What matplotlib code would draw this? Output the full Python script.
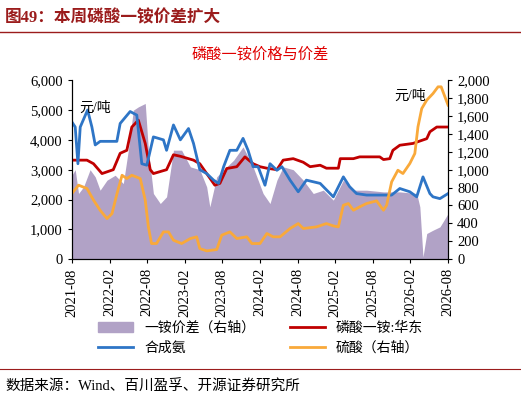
import matplotlib
matplotlib.use("Agg")
import matplotlib.pyplot as plt
import numpy as np

plt.rcParams['font.family'] = ['Liberation Serif', 'Noto Sans CJK SC']

months_spread = [0,0.53,1.06,1.86,2.9,3.72,4.5,5.6,6.9,8.2,9.0,9.8,10.6,11.7,12.2,13.0,14.1,15.1,16.2,17.5,18.9,20.4,21.5,22.0,23.1,24.2,25.8,27.3,28.9,30.5,31.6,32.7,33.7,35.3,36.9,38.5,40.1,41.7,43.3,44.9,47.0,49.7,52.3,55.0,55.5,56.0,56.6,57.6,58.7,60]
spread = [938,1000,734,808,1000,920,771,883,938,845,1218,1665,1702,1740,1218,734,622,697,1218,1218,1032,1000,808,585,920,1000,1106,1255,1032,734,622,883,1032,1000,883,734,771,660,883,771,771,752,752,734,585,26,287,324,361,510]

months_map = [0,2.4,3.45,4.8,6.6,7.7,8.76,9.56,10.6,11.7,12.5,13.0,15.1,16.2,17.3,19.4,20.4,21.5,22.8,23.6,24.7,26.3,27.6,28.9,30.0,31.1,32.7,33.7,35.3,36.9,38.0,39.6,40.6,42.5,42.8,44.9,45.9,49.1,49.7,50.7,51.2,52.3,54.4,56.6,57.1,58.2,60]
map_price = [3320,3320,3200,2870,3000,3550,3650,4430,4660,3880,3000,2870,3000,3500,3450,3320,3200,2870,2480,2540,3040,3100,3430,3200,3100,3050,3000,3320,3370,3250,3100,3150,3050,3050,3370,3370,3430,3430,3340,3370,3650,3820,3880,4040,4270,4430,4430]

months_nh3 = [0,0.53,0.96,1.33,2.5,3.19,3.72,4.51,7.17,7.7,9.29,10.35,11.15,11.95,13.0,14.6,15.1,16.2,17.3,18.6,19.4,20.4,21.5,22.6,23.4,24.2,25.2,26.3,27.3,28.1,28.9,29.7,30.8,31.6,32.7,33.5,34.8,36.1,37.4,39.6,41.7,43.3,44.3,45.4,47.0,49.6,51.0,52.3,53.9,55.0,56.0,57.1,57.6,58.7,60]
nh3 = [4600,4430,3200,4430,5000,4430,3830,3950,3950,4550,4950,4830,3200,3150,4100,4000,3650,4500,4000,4380,3880,3000,2870,2650,2540,3100,3650,3650,4050,3650,3100,3100,2480,3200,2980,3100,2650,2260,2650,2540,2090,2760,2430,2200,2150,2150,2150,2370,2260,2090,2760,2200,2090,2030,2200]

months_acid = [0,1.06,2.4,3.45,4.5,5.6,6.4,7.2,8.0,8.76,9.56,10.9,11.7,12.2,12.7,13.5,14.6,15.4,16.2,17.5,18.9,19.9,20.4,21.5,23.1,23.9,25.2,26.3,27.9,28.7,30.0,31.1,32.1,33.2,34.8,36.1,36.9,39.0,40.6,41.7,42.5,43.3,44.1,44.9,45.9,47.0,48.6,49.7,50.2,51.0,52.0,52.8,53.9,54.7,55.2,55.8,56.6,57.6,58.4,58.9,59.5,60]
acid = [734,827,790,660,547,454,510,734,938,901,938,901,660,361,175,175,305,305,212,175,231,250,119,93,108,268,305,231,250,175,175,287,250,250,343,398,343,361,398,372,361,603,622,547,585,622,652,547,603,864,994,957,1069,1181,1479,1683,1777,1851,1926,1926,1814,1721]

tick_labels = ['2021-08','2022-02','2022-08','2023-02','2023-08','2024-02','2024-08','2025-02','2025-08','2026-02','2026-08']

fig = plt.figure(figsize=(5.21, 4.05), dpi=100)
ax = fig.add_axes([0.138, 0.36, 0.722, 0.442])
ax2 = ax.twinx()
ax.set_zorder(ax2.get_zorder() + 1)
ax.patch.set_visible(False)

ax2.fill_between(months_spread, spread, 0, color='#b1a2c6', lw=0)
l1, = ax.plot(months_map, map_price, color='#c00000', lw=2)
l2, = ax.plot(months_nh3, nh3, color='#2e75c6', lw=2)
l3, = ax.plot(months_acid, np.array(acid) * 3, color='#f9a93a', lw=2)

ax.set_xlim(0, 60)
ax.set_ylim(0, 6000)
ax2.set_ylim(0, 2000)
ax.set_yticks(range(0, 6001, 1000))
ax.set_yticklabels([f'{v:,}' for v in range(0, 6001, 1000)])
ax2.set_yticks(range(0, 2001, 200))
ax2.set_yticklabels([f'{v:,}' for v in range(0, 2001, 200)])
ax.set_xticks(range(0, 61, 6))
ax.set_xticklabels(tick_labels, rotation=90)
for a in (ax, ax2):
    a.tick_params(labelsize=10.5, length=3, direction='out')
    a.spines['top'].set_visible(False)
ax.text(1.2, 4950, '元/吨', fontsize=10)
ax2.text(51.5, 1780, '元/吨', fontsize=10)

fig.text(0.5, 0.855, '磷酸一铵价格与价差', color='#e00000', fontsize=11, ha='center')
fig.text(0.01, 0.955, '图49：本周磷酸一铵价差扩大', color='#9b1c1c', fontsize=12, fontweight='bold', va='center')
fig.add_artist(plt.Line2D([0.0, 1.0], [0.922, 0.922], color='#9b1c1c', lw=1))
fig.add_artist(plt.Line2D([0.0, 1.0], [0.09, 0.09], color='#9b1c1c', lw=0.8))
fig.text(0.01, 0.045, '数据来源：Wind、百川盈孚、开源证券研究所', fontsize=10.5, va='center')

handles = [plt.Rectangle((0, 0), 1, 1, color='#b1a2c6'), l2, l1, l3]
labels = ['一铵价差（右轴）', '合成氨', '磷酸一铵:华东', '硫酸（右轴）']
fig.legend(handles, labels, loc='center', bbox_to_anchor=(0.5, 0.165), ncol=2, frameon=False, fontsize=10, columnspacing=2.5, handlelength=2.5)

fig.savefig('out.png', dpi=100)
